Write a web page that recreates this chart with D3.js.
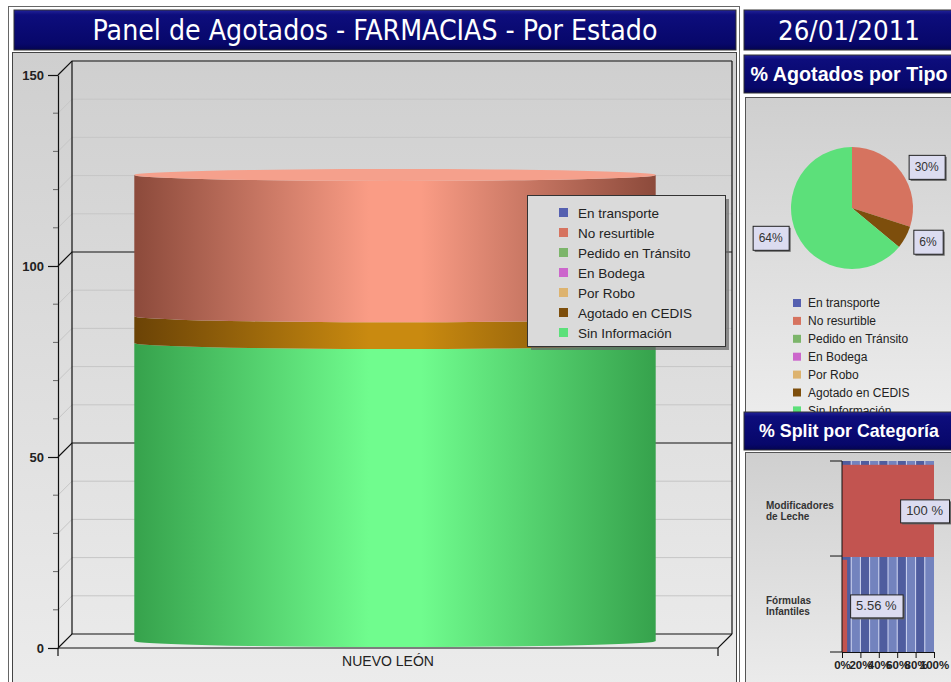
<!DOCTYPE html>
<html>
<head>
<meta charset="utf-8">
<script src="https://cdnjs.cloudflare.com/ajax/libs/d3/7.8.5/d3.min.js"></script>
<style>
body{margin:0;background:#fff;}
text{font-family:"Liberation Sans",Arial,sans-serif;}
</style>
</head>
<body>
<script>
// datos del panel
var fecha = "26/01/2011";
var titulo = "Panel de Agotados - FARMACIAS - Por Estado";
var estados = ["NUEVO LEÓN"];
var tipos = ["En transporte","No resurtible","Pedido en Tránsito","En Bodega","Por Robo","Agotado en CEDIS","Sin Información"];
var agotadosNL = [0, 37, 0, 0, 0, 7, 78];
var pctTipo = [0, 30, 0, 0, 0, 6, 64];
var yTicks = [0, 50, 100, 150];
var categoriasSplit = ["Modificadores de Leche", "Fórmulas Infantiles"];
var pctSplit = [100, 5.56];
var splitTicks = [0, 20, 40, 60, 80, 100];

var coloresTipo = ["#5560b0","#d6735f","#7cb56a","#cc66cc","#ddb36f","#7d4e0c","#5ce07a"];
var cilOscuro = ["#2f3778","#8c4a3b","#4d7a40","#8a3a8a","#9a7840","#6b4306","#36a24c"];
var cilClaro  = ["#8a95e8","#fa9c85","#a8e894","#f290f2","#fad898","#c98a10","#70fc8e"];

var svg = d3.select("body").append("svg")
    .attr("width", 951).attr("height", 682);
var defs = svg.append("defs");

function gradV(id, stops){
  var gr = defs.append("linearGradient").attr("id", id)
    .attr("x1",0).attr("y1",0).attr("x2",0).attr("y2",1);
  stops.forEach(function(s){ gr.append("stop").attr("offset", s[0]).attr("stop-color", s[1]); });
}
gradV("navy", [[0,"#22229a"],[0.12,"#0d0d7c"],[0.85,"#07076a"],[1,"#040450"]]);
gradV("fondo", [[0,"#cfcfcf"],[1,"#ececec"]]);

tipos.forEach(function(t,i){
  var gr = defs.append("linearGradient").attr("id","cil"+i)
    .attr("x1",0).attr("y1",0).attr("x2",1).attr("y2",0);
  gr.append("stop").attr("offset",0).attr("stop-color",cilOscuro[i]);
  gr.append("stop").attr("offset",0.45).attr("stop-color",cilClaro[i]);
  gr.append("stop").attr("offset",0.55).attr("stop-color",cilClaro[i]);
  gr.append("stop").attr("offset",1).attr("stop-color",cilOscuro[i]);
});

// ajusta el tamaño de letra a un ancho dado
function ajustar(t, ancho){
  var fs = parseFloat(t.style("font-size"));
  var w = t.node().getComputedTextLength();
  t.style("font-size", (fs*ancho/w).toFixed(2)+"px");
}

function barra(x0, y0, w, h, texto, ancho, fuente, peso, estrecha){
  svg.append("rect").attr("x",x0).attr("y",y0).attr("width",w).attr("height",h)
    .attr("fill","url(#navy)").attr("stroke","#333");
  var t = svg.append("text").attr("x", x0+w/2).attr("y", y0+h/2).attr("dy","0.36em")
    .attr("text-anchor","middle").attr("fill","#fff")
    .style("font-family", fuente).style("font-weight", peso)
    .style("font-stretch", estrecha ? "condensed" : "normal")
    .style("font-size","20px").text(texto);
  ajustar(t, ancho);
}

// etiqueta con caja y sombra
function etiqueta(padre, texto, fs, h){
  var et = padre.append("g");
  var sombra = et.append("rect").attr("fill","#666");
  var caja = et.append("rect").attr("fill","#dcdcf0").attr("stroke","#222");
  var t = et.append("text").style("font-size",fs).attr("fill","#333").attr("dy","0.35em").text(texto);
  var w = t.node().getComputedTextLength()+12;
  return {w: w, colocar: function(bx, cyy){
    sombra.attr("x",bx+2).attr("y",cyy-h/2+2).attr("width",w).attr("height",h);
    caja.attr("x",bx+0.5).attr("y",cyy-h/2+0.5).attr("width",w).attr("height",h);
    t.attr("x",bx+6).attr("y",cyy);
  }};
}

var condensada = "'DejaVu Sans Condensed','DejaVu Sans',sans-serif";

// ---------- panel principal ----------
svg.append("rect").attr("x",8.5).attr("y",6.5).attr("width",731).attr("height",690)
  .attr("fill","none").attr("stroke","#666");
svg.append("rect").attr("x",12.5).attr("y",52.5).attr("width",724).attr("height",640)
  .attr("fill","url(#fondo)").attr("stroke","#444");
barra(14, 10, 722, 40, titulo, 565, condensada, "normal", true);

var y = d3.scaleLinear().domain([0,150]).range([648,75]);
var x = d3.scaleBand().domain(estados).range([58,718]).paddingInner(0.21).paddingOuter(0.105);
var prof = 14;
var x0 = x.range()[0], x1 = x.range()[1];
var g = svg.append("g");

// lineas de fondo (pared trasera)
var menores = d3.range(0,151,10).filter(function(v){ return yTicks.indexOf(v) < 0; });
g.selectAll(".menor").data(menores).enter().append("path")
  .attr("fill","none").attr("stroke","#c6c6c6").attr("stroke-width",1)
  .attr("d", function(v){
    return "M"+x0+","+y(v)+"L"+(x0+prof)+","+(y(v)-prof)+"L"+(x1+prof)+","+(y(v)-prof);
  });
g.selectAll(".mayor").data(yTicks).enter().append("path")
  .attr("fill","none").attr("stroke","#111").attr("stroke-width",1.2)
  .attr("d", function(v){
    return "M"+x0+","+y(v)+"L"+(x0+prof)+","+(y(v)-prof)+"L"+(x1+prof)+","+(y(v)-prof);
  });
g.append("path").attr("fill","none").attr("stroke","#111").attr("stroke-width",1.2)
  .attr("d","M"+(x0+prof)+","+(y(150)-prof)+"V"+(y(0)-prof)
       +"M"+(x1+prof)+","+(y(150)-prof)+"V"+(y(0)-prof)
       +"M"+x0+","+y(0)+"H"+x1+"L"+(x1+prof)+","+(y(0)-prof)
       +"M"+x1+","+y(0)+"V"+(y(0)+8)
       +"M"+x0+","+y(0)+"V"+(y(0)+8));

// eje y
var ejeY = g.append("g").attr("transform","translate("+x0+",0)")
  .call(d3.axisLeft(y).tickValues(yTicks).tickSize(10).tickSizeOuter(0).tickPadding(4));
ejeY.select(".domain").attr("stroke","#111").attr("stroke-width",1.2);
ejeY.selectAll(".tick line").attr("stroke","#111").attr("stroke-width",1.2);
ejeY.selectAll("text").style("font-size","13px").style("font-weight","bold")
  .attr("fill","#222").style("font-family","'Liberation Sans',Arial,sans-serif");
g.selectAll(".tmenor").data(menores).enter().append("line")
  .attr("x1",x0-5).attr("x2",x0).attr("y1",function(v){return y(v);}).attr("y2",function(v){return y(v);})
  .attr("stroke","#666");

g.selectAll(".cat").data(estados).enter().append("text")
  .attr("x", function(d){ return x(d)+x.bandwidth()/2; })
  .attr("y", 666).attr("text-anchor","middle")
  .style("font-size","14px").attr("fill","#222").text(function(d){return d;});

// cilindro apilado
var fila = {};
tipos.forEach(function(t,i){ fila[t] = agotadosNL[i]; });
var serie = d3.stack().keys(tipos.slice().reverse())([fila])
  .filter(function(s){ return s[0][1] > s[0][0]; });
var off = prof/2, ry = 6;
var bw = x.bandwidth(), rx = bw/2;
estados.forEach(function(est){
  var xl = x(est)+off, xr = xl+bw;
  g.selectAll(".seg").data(serie).enter().append("path")
    .attr("fill", function(s){ return "url(#cil"+tipos.indexOf(s.key)+")"; })
    .attr("d", function(s){
      var yt = y(s[0][1])-off, yb = y(s[0][0])-off;
      return "M"+xl+","+yt+"L"+xl+","+yb
        +"A"+rx+","+ry+" 0 0 0 "+xr+","+yb
        +"L"+xr+","+yt
        +"A"+rx+","+ry+" 0 0 1 "+xl+","+yt+"Z";
    });
  var tope = serie[serie.length-1];
  g.append("ellipse").attr("cx", xl+rx).attr("cy", y(tope[0][1])-off)
    .attr("rx", rx).attr("ry", ry)
    .attr("fill", "#f5a08c");
});

// leyenda principal
var ley = svg.append("g").attr("transform","translate(527,195)");
ley.append("rect").attr("x",4).attr("y",4).attr("width",198).attr("height",151).attr("fill","#666").attr("opacity",0.7);
ley.append("rect").attr("x",0.5).attr("y",0.5).attr("width",198).attr("height",151)
  .attr("fill","#dadada").attr("stroke","#333");
var fl = ley.selectAll(".it").data(tipos).enter().append("g")
  .attr("transform", function(d,i){ return "translate(0,"+(18+i*20)+")"; });
fl.append("rect").attr("x",32).attr("y",-5).attr("width",9).attr("height",9)
  .attr("fill", function(d,i){ return coloresTipo[i]; });
fl.append("text").attr("x",51).attr("dy","0.35em").style("font-size","13.5px")
  .attr("fill","#222").text(function(d){return d;});

// ---------- columna derecha ----------
barra(744, 10, 210, 40, fecha, 142, condensada, "normal", true);
barra(744, 55, 210, 38, "% Agotados por Tipo", 197, "'Liberation Sans',Arial", "bold", false);

svg.append("rect").attr("x",745.5).attr("y",97.5).attr("width",210).attr("height",320)
  .attr("fill","url(#fondo)").attr("stroke","#555");

var cx = 852, cy = 208, r = 61;
var pie = d3.pie().sort(null).value(function(d){ return d; });
var arco = d3.arc().innerRadius(0).outerRadius(r);
var arcoEt = d3.arc().innerRadius(70).outerRadius(70);
var rebanadas = pie(pctTipo).filter(function(d){ return d.value > 0; });
var gp = svg.append("g").attr("transform","translate("+cx+","+cy+")");
gp.selectAll(".reb").data(rebanadas).enter().append("path")
  .attr("d", arco).attr("fill", function(d){ return coloresTipo[d.index]; });

rebanadas.forEach(function(d){
  var c = arcoEt.centroid(d);
  var der = (d.startAngle + d.endAngle)/2 < Math.PI;
  var et = etiqueta(gp, d.value+"%", "12px", 24);
  et.colocar(der ? c[0] : c[0]-et.w, c[1]);
});

var ley2 = svg.append("g").attr("transform","translate(793,303)");
var fl2 = ley2.selectAll(".it").data(tipos).enter().append("g")
  .attr("transform", function(d,i){ return "translate(0,"+(i*17.9)+")"; });
fl2.append("rect").attr("x",0).attr("y",-4).attr("width",8).attr("height",8)
  .attr("fill", function(d,i){ return coloresTipo[i]; });
fl2.append("text").attr("x",15).attr("dy","0.35em").style("font-size","12px")
  .attr("fill","#222").text(function(d){return d;});

// panel de split por categoria
svg.append("rect").attr("x",745.5).attr("y",452.5).attr("width",210).attr("height",240)
  .attr("fill","url(#fondo)").attr("stroke","#555");
barra(744, 412, 210, 38, "% Split por Categoría", 180, "'Liberation Sans',Arial", "bold", false);

var xs = d3.scaleLinear().domain([0,100]).range([842,934]);
var ys = d3.scaleBand().domain(categoriasSplit).range([461,652])
  .paddingInner(0.03).paddingOuter(0.02).align(1);
var gs = svg.append("g");
gs.selectAll(".banda").data(d3.range(0,100,10)).enter().append("rect")
  .attr("x", function(v){ return xs(v); }).attr("y", 461)
  .attr("width", function(v){ return xs(v+10)-xs(v); }).attr("height", 191)
  .attr("fill", function(v,i){ return i%2 ? "#7383be" : "#4f5d9f"; });
gs.selectAll(".rejilla").data(d3.range(10,100,10)).enter().append("line")
  .attr("x1", function(v){ return xs(v); }).attr("x2", function(v){ return xs(v); })
  .attr("y1",461).attr("y2",652).attr("stroke","#cfd6f2").attr("stroke-width",1);
gs.append("line").attr("x1",842).attr("x2",934).attr("y1",ys.step()+461).attr("y2",ys.step()+461)
  .attr("stroke","#cfd6f2");
gs.selectAll(".barra").data(pctSplit).enter().append("rect")
  .attr("x", xs(0)).attr("y", function(d,i){ return ys(categoriasSplit[i]); })
  .attr("width", function(d){ return xs(d)-xs(0); }).attr("height", ys.bandwidth())
  .attr("fill","#c25450");

var ejeS = gs.append("g").attr("transform","translate(0,652)")
  .call(d3.axisBottom(xs).tickValues(splitTicks).tickSize(6).tickSizeOuter(0)
    .tickFormat(function(d){ return d+"%"; }));
ejeS.select(".domain").attr("stroke","#111");
ejeS.selectAll(".tick line").attr("stroke","#111");
ejeS.selectAll("text").style("font-size","11.5px").style("font-weight","bold").attr("fill","#222")
  .style("font-family","'Liberation Sans',Arial,sans-serif");
gs.append("path").attr("fill","none").attr("stroke","#111")
  .attr("d","M842,461V652M830,461H842M830,"+(461+ys.step())+"H842M830,652H842");

gs.selectAll(".catS").data(categoriasSplit).enter().append("text")
  .attr("x",766).attr("y", function(d){ return ys(d)+ys.bandwidth()/2; })
  .style("font-size","10px").style("font-weight","bold").attr("fill","#333")
  .each(function(d){
    var k = d.indexOf(" ");
    var partes = [d.slice(0,k), d.slice(k+1)];
    d3.select(this).selectAll("tspan").data(partes).enter().append("tspan")
      .attr("x",766).attr("dy", function(p,j){ return j ? "1.15em" : "-0.2em"; })
      .text(function(p){ return p; });
  });

pctSplit.forEach(function(v,i){
  var et = etiqueta(gs, d3.format(".3~f")(v)+" %", "13px", 23);
  var bx = Math.min(xs(v)+3, 949-et.w);
  et.colocar(bx, ys(categoriasSplit[i]) + ys.bandwidth()/2);
});
</script>
</body>
</html>
